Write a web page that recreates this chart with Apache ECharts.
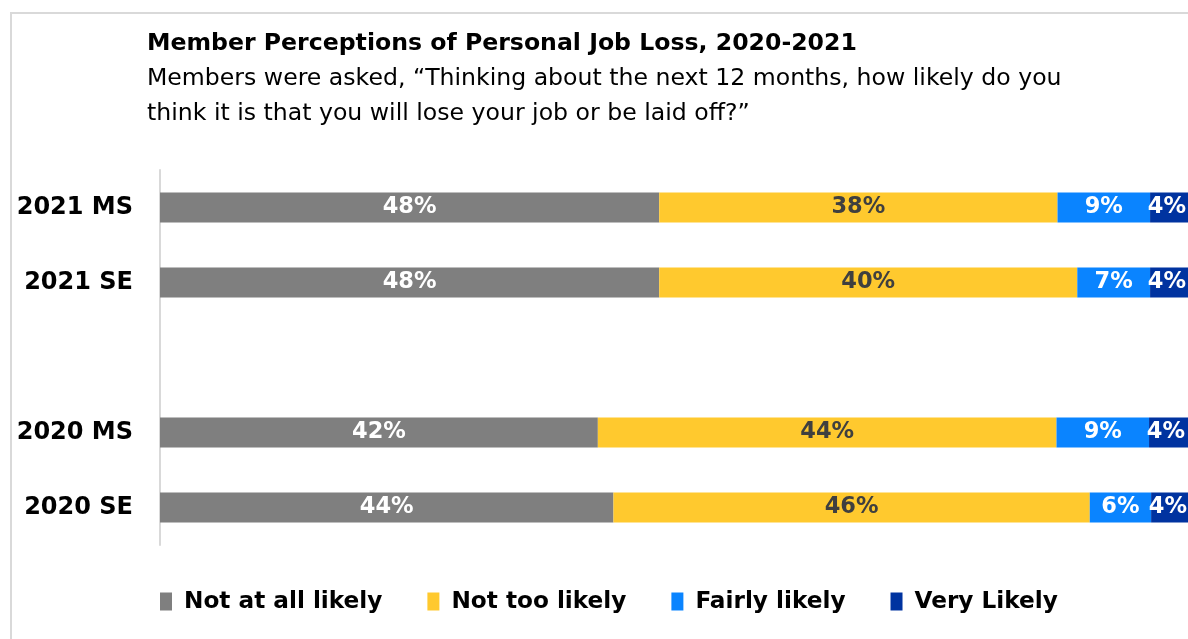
<!DOCTYPE html>
<html>
<head>
<meta charset="utf-8">
<script src="https://cdn.jsdelivr.net/npm/echarts@6/dist/echarts.min.js"></script>
<style>html,body{margin:0;padding:0;background:#fff}#c{width:1188px;height:639px}</style>
</head>
<body>
<div id="c"></div>
<script>
var titleText = 'Member Perceptions of Personal Job Loss, 2020-2021';
var subtitleText = 'Members were asked, \u201cThinking about the next 12 months, how likely do you\nthink it is that you will lose your job or be laid off?\u201d';
var categories = ['2021 MS', '2021 SE', '', '2020 MS', '2020 SE'];
var seriesNames = ['Not at all likely', 'Not too likely', 'Fairly likely', 'Very Likely'];
var notAtAllLikely = [48.0, 48.0, null, 42.1, 43.6];
var notTooLikely = [38.3, 40.2, null, 44.1, 45.8];
var fairlyLikely = [8.9, 7.0, null, 8.9, 5.9];
var veryLikely = [4.0, 4.0, null, 4.0, 4.0];

var colors = ['#7f7f7f', '#ffc92e', '#0a84ff', '#0033a0'];
var labelColors = ['#ffffff', '#3f3f3f', '#ffffff', '#ffffff'];
var labelOffsets = [[0, 0], [0, 0], [0, 0], [-4, 0]];
var FONT = "'DejaVu Sans', sans-serif";
var dataSets = [notAtAllLikely, notTooLikely, fairlyLikely, veryLikely];

var series = dataSets.map(function (d, i) {
  return {
    name: seriesNames[i],
    type: 'bar',
    stack: 'total',
    barWidth: 30,
    data: d,
    itemStyle: { color: colors[i] },
    label: {
      show: true,
      position: 'inside',
      offset: labelOffsets[i],
      color: labelColors[i],
      fontFamily: FONT,
      fontSize: 22.5,
      fontWeight: 'bold',
      formatter: function (p) { return p.value == null ? '' : Math.round(p.value) + '%'; }
    },
    emphasis: { disabled: true }
  };
});

var chart = echarts.init(document.getElementById('c'), null, { renderer: 'canvas' });
chart.setOption({
  animation: false,
  backgroundColor: '#ffffff',
  title: [
    { text: titleText, left: 147, top: 32, padding: 0,
      textStyle: { fontFamily: FONT, fontSize: 23.6, fontWeight: 'bold', color: '#000' } },
    { text: subtitleText, left: 147, top: 61, padding: 0,
      textStyle: { fontFamily: FONT, fontSize: 23.6, fontWeight: 'normal', color: '#000', lineHeight: 35 } }
  ],
  graphic: [
    { type: 'rect', shape: { x: 11, y: 13, width: 1300, height: 700 },
      style: { fill: 'none', stroke: '#d9d9d9', lineWidth: 2 }, silent: true }
  ],
  legend: {
    data: seriesNames,
    left: 160, top: 590, padding: 0,
    itemWidth: 12, itemHeight: 18, itemGap: 45,
    icon: 'rect',
    textStyle: { fontFamily: FONT, fontSize: 23.2, fontWeight: 'bold', color: '#000', padding: [0, 0, 0, 7] }
  },
  grid: { left: 160, top: 170, width: 1040, height: 375, containLabel: false, outerBoundsMode: 'none' },
  xAxis: { type: 'value', min: 0, max: 100, show: false },
  yAxis: {
    type: 'category', data: categories, inverse: true,
    axisLine: { show: true, lineStyle: { color: '#d9d9d9', width: 2 } },
    axisTick: { show: false },
    axisLabel: { fontFamily: FONT, fontSize: 24, fontWeight: 'bold', color: '#000', margin: 27 }
  },
  series: series
});
</script>
</body>
</html>
